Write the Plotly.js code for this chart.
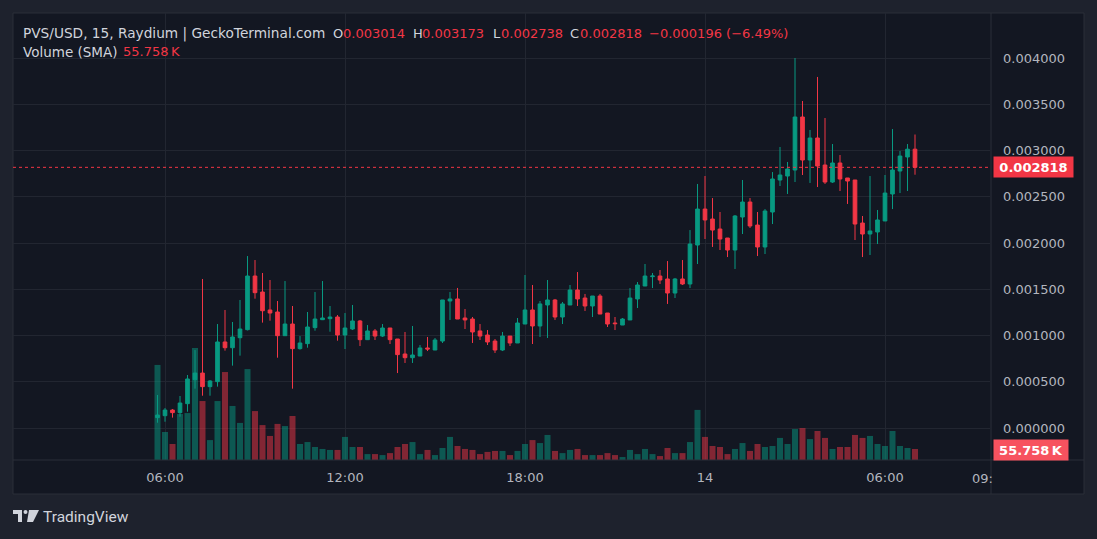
<!DOCTYPE html>
<html><head><meta charset="utf-8">
<script src="https://cdn.plot.ly/plotly-3.0.1.min.js"></script>
<style>html,body{margin:0;padding:0;background:#1e222d;overflow:hidden}#chart{width:1097px;height:539px;}</style>
</head><body><div id="chart"></div>
<script>
// ---- DATA (PVS/USD, 15-minute candles) ----
const startTime = Date.UTC(2024, 5, 13, 5, 45);
const intervalMinutes = 15;
const opens = [0.000112,0.000133,0.000194,0.000166,0.000263,0.000522,0.000594,0.000447,0.000501,0.000930,
0.000868,0.000976,0.001063,0.001643,0.001470,0.001276,0.001254,0.000998,0.001124,0.000858,
0.000912,0.001085,0.001171,0.001182,0.001200,0.001005,0.001070,0.001157,0.000955,0.001049,
0.000994,0.001081,0.000962,0.000800,0.000760,0.000778,0.000865,0.000843,0.000940,0.001373,
0.001395,0.001189,0.001178,0.001049,0.001005,0.000940,0.000843,0.000994,0.000919,0.001124,
0.001276,0.001103,0.001330,0.001384,0.001200,0.001330,0.001492,0.001405,0.001319,0.001427,
0.001243,0.001135,0.001113,0.001168,0.001395,0.001535,0.001636,0.001643,0.001611,0.001459,
0.001611,0.001557,0.001978,0.002367,0.002259,0.002151,0.002054,0.001924,0.002281,0.002443,
0.002194,0.001957,0.002335,0.002681,0.002724,0.002789,0.003362,0.002897,0.003135,0.002843,
0.002659,0.002865,0.002703,0.002681,0.002216,0.002097,0.002119,0.002238,0.002530,0.002778,
0.002930,0.003014];
const highs = [0.000357,0.000216,0.000205,0.000346,0.000573,0.000843,0.001611,0.000519,0.001124,0.001276,
0.001146,0.001384,0.001859,0.001816,0.001676,0.001600,0.001373,0.001589,0.001319,0.000994,
0.001254,0.001470,0.001589,0.001319,0.001221,0.001243,0.001330,0.001168,0.001113,0.001070,
0.001124,0.001081,0.000962,0.001038,0.001103,0.000897,0.000984,0.000973,0.001384,0.001470,
0.001514,0.001286,0.001200,0.001124,0.001059,0.000962,0.001038,0.000994,0.001189,0.001654,
0.001546,0.001373,0.001600,0.001395,0.001362,0.001546,0.001686,0.001449,0.001427,0.001449,
0.001243,0.001200,0.001189,0.001513,0.001578,0.001773,0.001676,0.001708,0.001805,0.001622,
0.001816,0.002140,0.002638,0.002724,0.002486,0.002335,0.002054,0.002303,0.002681,0.002486,
0.002335,0.002367,0.002767,0.003038,0.002876,0.004000,0.003535,0.003222,0.003795,0.003351,
0.003070,0.002951,0.002703,0.002681,0.002292,0.002724,0.002357,0.002735,0.003232,0.002995,
0.003070,0.003173];
const lows = [0.000057,0.000068,0.000112,0.000122,0.000176,0.000425,0.000349,0.000349,0.000447,0.000836,
0.000674,0.000782,0.001055,0.001398,0.001139,0.001160,0.000760,0.000994,0.000425,0.000847,
0.000868,0.001052,0.001167,0.001041,0.000944,0.000854,0.001059,0.000886,0.000951,0.000951,
0.000984,0.000908,0.000594,0.000703,0.000703,0.000778,0.000832,0.000843,0.000919,0.001168,
0.001178,0.001070,0.000919,0.000951,0.000897,0.000811,0.000832,0.000886,0.000919,0.001124,
0.000908,0.000984,0.000973,0.001168,0.001124,0.001330,0.001319,0.001265,0.001200,0.001232,
0.001092,0.001059,0.001113,0.001168,0.001297,0.001535,0.001513,0.001557,0.001341,0.001405,
0.001546,0.001513,0.001773,0.002043,0.001957,0.001924,0.001848,0.001719,0.002097,0.002162,
0.001859,0.001881,0.002205,0.002616,0.002530,0.002659,0.002735,0.002649,0.002605,0.002638,
0.002649,0.002562,0.002422,0.002032,0.001848,0.001870,0.001989,0.002238,0.002367,0.002540,
0.002562,0.002738];
const closes = [0.000140,0.000194,0.000166,0.000270,0.000530,0.000594,0.000447,0.000508,0.000930,0.000868,
0.000984,0.001070,0.001643,0.001463,0.001268,0.001243,0.000998,0.001124,0.000858,0.000919,
0.001092,0.001178,0.001189,0.001200,0.001005,0.001081,0.001157,0.000955,0.001049,0.000994,
0.001081,0.000955,0.000793,0.000760,0.000789,0.000865,0.000854,0.000951,0.001384,0.001395,
0.001178,0.001168,0.001038,0.000994,0.000930,0.000843,0.000994,0.000919,0.001135,0.001276,
0.001103,0.001341,0.001384,0.001200,0.001341,0.001492,0.001395,0.001319,0.001427,0.001232,
0.001124,0.001128,0.001178,0.001405,0.001546,0.001643,0.001643,0.001600,0.001459,0.001611,
0.001557,0.001989,0.002367,0.002249,0.002140,0.002043,0.001924,0.002292,0.002443,0.002184,
0.001957,0.002346,0.002692,0.002735,0.002800,0.003362,0.002897,0.003135,0.002832,0.002659,
0.002865,0.002692,0.002670,0.002205,0.002097,0.002130,0.002249,0.002540,0.002789,0.002940,
0.003014,0.002818];
// volume in thousands (K)
const volumesK = [482,142,81,233,238,568,299,101,299,446,
274,188,461,248,177,122,183,172,223,81,
91,66,56,51,51,117,66,66,30,30,
25,35,66,81,91,30,51,25,61,117,
71,56,51,30,41,46,46,25,46,81,
101,86,127,46,35,51,56,25,25,25,
35,25,15,51,30,56,30,20,61,35,
35,91,254,117,71,66,30,56,86,46,
81,66,71,112,81,157,162,106,147,112,
56,66,66,127,112,122,81,71,147,71,
61,55.758];
const xTickVals = ['2024-06-13 06:00','2024-06-13 12:00','2024-06-13 18:00','2024-06-14 00:00','2024-06-14 06:00'];
const xTickText = ['06:00','12:00','18:00','14','06:00'];
const priceTicks = [0,0.0005,0.001,0.0015,0.002,0.0025,0.003,0.0035,0.004];
const lastPrice = 0.002818;
const lastVolumeLabel = '55.758\u2009K';

// ---- BUILD ----
const times = opens.map((_, i) => startTime + i * intervalMinutes * 60000);
const UP = '#089981', DOWN = '#f23645';
const volColors = opens.map((o, i) => closes[i] >= o ? 'rgba(8,153,129,0.5)' : 'rgba(242,54,69,0.5)');

const FIG_W = 1097, FIG_H = 539;
const M = {l: 13, r: 107, t: 13, b: 79};
const PW = FIG_W - M.l - M.r, PH = FIG_H - M.t - M.b;
const px = x => (x - M.l) / PW;
const py = y => (FIG_H - M.b - y) / PH;
const FONT = 'DejaVu Sans';
const GRID = '#222631';
const BORDER = '#2a2e39';

const volTrace = {
  type: 'bar', x: times, y: volumesK, yaxis: 'y', xaxis: 'x',
  marker: {color: volColors, line: {width: 0}}, width: 12 * 60000,
  hoverinfo: 'skip', showlegend: false
};
const candleTrace = {
  type: 'candlestick', x: times, open: opens, high: highs, low: lows, close: closes,
  yaxis: 'y2', xaxis: 'x',
  increasing: {line: {color: UP, width: 1}, fillcolor: UP},
  decreasing: {line: {color: DOWN, width: 1}, fillcolor: DOWN},
  hoverinfo: 'skip', showlegend: false
};

function ann(text, x, y, color, size, extra) {
  return Object.assign({
    xref: 'paper', yref: 'paper', x: px(x - 2), y: py(y), xanchor: 'left', yanchor: 'middle',
    text: text, showarrow: false, font: {family: FONT, size: size || 13, color: color}
  }, extra || {});
}
const GRAY = '#d1d4dc';
const annotations = [
  ann('PVS/USD, 15, Raydium | GeckoTerminal.com', 23, 33, GRAY, 13.7),
  ann('O', 333, 33, GRAY), ann('0.003014', 343, 33, DOWN),
  ann('H', 413, 33, GRAY), ann('0.003173', 422, 33, DOWN),
  ann('L', 493, 33, GRAY), ann('0.002738', 501, 33, DOWN),
  ann('C', 570, 33, GRAY), ann('0.002818', 580, 33, DOWN),
  ann('\u22120.000196 (\u22126.49%)', 649, 33, DOWN),
  ann('Volume (SMA)', 23, 52, GRAY, 13.5), ann(lastVolumeLabel, 123, 52, DOWN),
  ann('09:', 972, 478, '#b2b5be'),
  ann('TradingView', 43, 517, '#d1d4dc', 15.5, {font: {family: 'Roboto', size: 15.5, color: '#d1d4dc'}}),
  {xref: 'paper', yref: 'y2', x: px(993), y: lastPrice, xanchor: 'left', yanchor: 'middle',
   text: '<b>' + lastPrice.toFixed(6) + '</b>', showarrow: false, bgcolor: DOWN, borderpad: 2,
   width: 75, height: 16, align: 'center', font: {family: FONT, size: 13, color: '#ffffff'}},
  {xref: 'paper', yref: 'paper', x: px(993), y: py(450), xanchor: 'left', yanchor: 'middle',
   text: '<b>' + lastVolumeLabel + '</b>', showarrow: false, bgcolor: '#f7525f', borderpad: 2,
   width: 70, height: 16, align: 'center', font: {family: FONT, size: 13, color: '#ffffff'}}
];

function rectPath(x0, y0, x1, y1) {
  return `M${px(x0)},${py(y0)} L${px(x1)},${py(y0)} L${px(x1)},${py(y1)} L${px(x0)},${py(y1)} Z`;
}
function polyPath(pts) {
  return 'M' + pts.map(p => px(p[0]) + ',' + py(p[1])).join(' L') + ' Z';
}
const LOGO = '#d1d4dc';
const shapes = [
  {type: 'rect', xref: 'paper', yref: 'paper', x0: px(13), x1: px(1084), y0: py(494), y1: py(13),
   fillcolor: '#131722', line: {color: BORDER, width: 1}, layer: 'below'},
  {type: 'line', xref: 'paper', yref: 'paper', x0: px(991), x1: px(991), y0: py(494), y1: py(13),
   line: {color: BORDER, width: 1}},
  {type: 'line', xref: 'paper', yref: 'paper', x0: px(13), x1: px(1084), y0: py(460), y1: py(460),
   line: {color: BORDER, width: 1}},
  {type: 'line', xref: 'paper', yref: 'y2', x0: 0, x1: 1, y0: lastPrice, y1: lastPrice,
   line: {color: DOWN, width: 1, dash: 'dot'}},
  // TradingView logo
  {type: 'path', xref: 'paper', yref: 'paper', path: rectPath(13, 510, 22, 514), fillcolor: LOGO, line: {width: 0}},
  {type: 'path', xref: 'paper', yref: 'paper', path: rectPath(18, 510, 22, 522), fillcolor: LOGO, line: {width: 0}},
  {type: 'circle', xref: 'paper', yref: 'paper', x0: px(23.5), x1: px(27.5), y0: py(514), y1: py(510), fillcolor: LOGO, line: {width: 0}},
  {type: 'path', xref: 'paper', yref: 'paper', path: polyPath([[29,510],[39,510],[33,522],[27,522]]), fillcolor: LOGO, line: {width: 0}}
];

const layout = {
  width: FIG_W, height: FIG_H,
  margin: M,
  paper_bgcolor: '#1e222d', plot_bgcolor: '#131722',
  showlegend: false, dragmode: false, hovermode: false,
  xaxis: {
    type: 'date', range: ['2024-06-13 00:56', '2024-06-14 09:30'],
    tickvals: xTickVals, ticktext: xTickText, ticks: '', ticklabelstandoff: 8,
    showgrid: true, gridcolor: GRID, gridwidth: 1, zeroline: false, showline: false,
    tickfont: {family: FONT, size: 13, color: '#b2b5be'},
    rangeslider: {visible: false}, fixedrange: true
  },
  yaxis: {range: [0, 447 * 5.07], visible: false, showgrid: false, zeroline: false, fixedrange: true},
  yaxis2: {
    overlaying: 'y', side: 'right', range: [-0.000346, 0.0044865],
    tickvals: priceTicks, tickformat: '.6f', ticks: '', ticklabelstandoff: 12,
    showgrid: true, gridcolor: GRID, gridwidth: 1, zeroline: false, showline: false,
    tickfont: {family: FONT, size: 13, color: '#b2b5be'}, fixedrange: true
  },
  annotations: annotations,
  shapes: shapes
};

Plotly.newPlot('chart', [volTrace, candleTrace], layout, {displayModeBar: false, staticPlot: true});
</script>
</body></html>
